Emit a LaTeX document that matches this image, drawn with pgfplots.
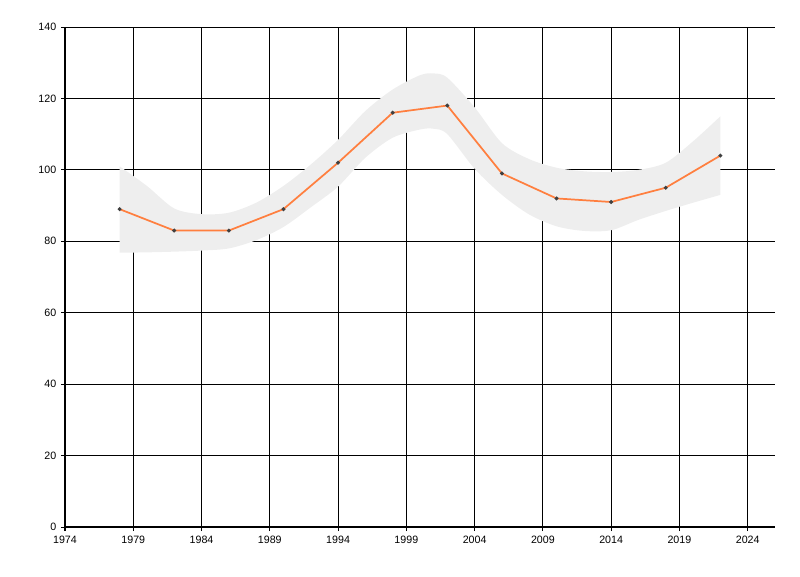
\documentclass[border=0pt]{standalone}
\usepackage{fontspec}
\setmainfont{Liberation Sans}
\usepackage{pgfplots}
\pgfplotsset{compat=1.18}
\usepgfplotslibrary{fillbetween}
\definecolor{bandgray}{HTML}{EEEEEE}
\definecolor{lineorange}{HTML}{FF7F3F}
\definecolor{markgray}{HTML}{404040}
\begin{document}
\begin{tikzpicture}
\begin{axis}[
  at={(0,0)}, anchor=south west,
  scale only axis,
  width=532.5pt, height=375pt,
  xmin=1974, xmax=2026,
  ymin=0, ymax=140,
  xtick={1974,1979,...,2024},
  ytick={0,20,...,140},
  axis lines=left,
  axis line style={-, line width=1pt, black},
  grid=major,
  grid style={black, line width=0.75pt},
  tick style={black, line width=0.75pt},
  tick align=outside,
  major tick length=3pt,
  tick label style={font=\fontsize{8}{9}\selectfont, text=black},
  /pgf/number format/1000 sep={},
  /pgf/number format/assume math mode=true,
]
% confidence band, upper edge
\addplot[draw=none, smooth, name path=up] coordinates {
  (1978,101) (1980,95.5) (1982,89.2) (1984,87.6) (1986,88) (1988,90.8)
  (1990,95.5) (1992,101.5) (1994,108.4) (1996,116.5) (1998,122.5)
  (2000,126.5) (2001,127) (2002,125.8) (2004,117.5) (2006,107.5)
  (2008,103) (2010,100.6) (2012,99.6) (2014,99.4) (2016,100)
  (2018,102) (2020,108) (2022,115)
};
% confidence band, lower edge
\addplot[draw=none, smooth, name path=lo] coordinates {
  (1978,76.8) (1980,76.9) (1982,77.1) (1984,77.4) (1986,78) (1988,80.3)
  (1990,84) (1992,89.5) (1994,95.3) (1996,103.4) (1998,109)
  (2000,111.3) (2001,111.5) (2002,110) (2004,100.3) (2006,93)
  (2008,87.5) (2010,84.2) (2012,82.9) (2014,83.1) (2016,86)
  (2018,88.5) (2020,90.8) (2022,93)
};
\addplot[bandgray, draw=none] fill between[of=up and lo];
% series
\addplot[lineorange, line width=1.3pt, mark=*, mark size=0.7pt,
  mark options={fill=markgray, draw=markgray}] coordinates {
  (1978,89) (1982,83) (1986,83) (1990,89) (1994,102) (1998,116)
  (2002,118) (2006,99) (2010,92) (2014,91) (2018,95) (2022,104)
};
\end{axis}
% page frame: 800x576 px at 0.75pt per px, axis from (65,27) to (775,527)
\path (-48.75pt,-36.75pt) rectangle (551.25pt,395.25pt);
\end{tikzpicture}
\end{document}
